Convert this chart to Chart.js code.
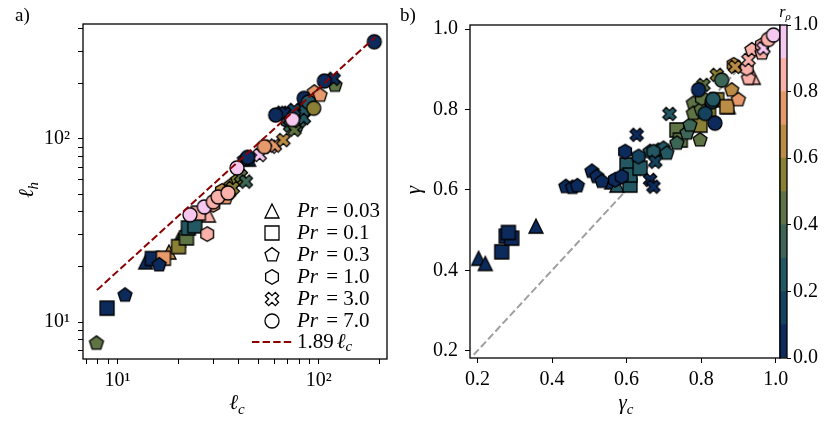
<!DOCTYPE html>
<html>
<head>
<meta charset="utf-8">
<script src="https://cdn.jsdelivr.net/npm/chart.js@4.4.1/dist/chart.umd.min.js"></script>
<style>
  html, body { margin: 0; padding: 0; background: #fff; }
  #wrap { position: relative; width: 830px; height: 422px; overflow: hidden; }
  canvas { position: absolute; top: 0; }
</style>
</head>
<body>
<div id="wrap">
  <canvas id="left" width="395" height="422" style="left:0"></canvas>
  <canvas id="right" width="435" height="422" style="left:395px"></canvas>
  <canvas id="cbar" width="60" height="422" style="left:770px"></canvas>
</div>
<script>
const SERIF = "'Liberation Serif', 'DejaVu Serif', serif"

// r_rho colour bins (edges 0..1, one colour per bin)
const rhoEdges = [0, 0.1, 0.2, 0.3, 0.4, 0.5, 0.6, 0.7, 0.8, 0.9, 1.0]
const rhoColors = ['#0c2a5b', '#15425f', '#235762', '#3c6756', '#5f7444',
                   '#8a8035', '#bb8c45', '#e69a6c', '#f9b1a9', '#f6c7ef']
const rhoTicks = [0, 0.2, 0.4, 0.6, 0.8, 1.0]

// legend / marker per Prandtl number
const prLabels = ['0.03', '0.1', '0.3', '1.0', '3.0', '7.0']
const prShapes = ['tri', 'sq', 'pent', 'hex', 'x', 'circ']

// panel a) : [l_c, l_h, r_rho]
const aTri = [[13.8, 21.3, 0.05], [18.0, 24.1, 0.65], [20.1, 28.1, 0.45], [21.3, 30.6, 0.25],
              [28.3, 38.4, 0.85], [44.8, 77.5, 0.05]]
const aSq = [[8.87, 11.9, 0.05], [14.9, 22.2, 0.05], [16.9, 22.3, 0.75], [20.1, 25.8, 0.55],
             [22.0, 28.8, 0.45], [22.5, 32.6, 0.25], [24.2, 33.5, 0.25], [25.2, 39.3, 0.85]]
const aPent = [[7.86, 7.65, 0.45], [10.9, 14.0, 0.05], [16.1, 20.5, 0.05], [34.5, 47.6, 0.75],
               [36.5, 55.5, 0.55], [39.6, 59.6, 0.55], [42.7, 76.8, 0.05], [77.8, 118, 0.35],
               [90.0, 160, 0.25], [95.0, 180, 0.75], [101.4, 173, 0.75], [120.3, 196, 0.45]]
const aHex = [[27.9, 30.2, 0.85], [29.9, 43.6, 0.75], [33.0, 52.0, 0.65], [44.4, 78.6, 0.05],
              [70.0, 125, 0.25], [85.0, 150, 0.35]]
const aX = [[35.8, 51.1, 0.65], [37.4, 54.0, 0.55], [41.0, 62.8, 0.45], [43.4, 58.5, 0.35],
            [50.8, 81.6, 0.95], [57.7, 90.6, 0.85], [60.5, 92.0, 0.75], [66.6, 98.5, 0.65],
            [72.0, 118, 0.35], [75.6, 112, 0.45], [80.0, 125, 0.35], [84.2, 130, 0.25],
            [84.2, 144, 0.25], [65.5, 139, 0.05], [68.3, 138.8, 0.05], [75.4, 144, 0.15],
            [118.4, 213, 0.05]]
const aCirc = [[22.9, 38.5, 0.95], [27.0, 42.5, 0.95], [29.9, 45.3, 0.85], [31.6, 48.2, 0.85],
               [35.4, 50.7, 0.85], [39.2, 69.4, 0.95], [44.3, 79.3, 0.05], [53.6, 90.6, 0.75],
               [61.0, 135, 0.05], [73.9, 127.5, 0.95], [84.5, 166.5, 0.05], [88.8, 159, 0.25],
               [94.3, 147, 0.55], [106.5, 207, 0.05], [188.5, 339, 0.05]]
const fitCoef = 1.89
const fitRange = [7.9, 190]

// panel b) : [gamma_c, gamma, r_rho]
const bTri = [[0.203, 0.430, 0.05], [0.221, 0.417, 0.05], [0.357, 0.510, 0.05], [0.560, 0.620, 0.05],
              [0.574, 0.612, 0.25], [0.873, 0.807, 0.65], [0.940, 0.880, 0.85]]
const bSq = [[0.265, 0.446, 0.05], [0.277, 0.485, 0.05], [0.292, 0.480, 0.05], [0.283, 0.494, 0.05],
             [0.601, 0.662, 0.25], [0.609, 0.612, 0.25], [0.609, 0.637, 0.25], [0.636, 0.654, 0.25],
             [0.735, 0.749, 0.45], [0.744, 0.724, 0.45], [0.797, 0.761, 0.55], [0.820, 0.800, 0.55],
             [0.842, 0.824, 0.55], [0.869, 0.807, 0.65]]
const bPent = [[0.437, 0.608, 0.05], [0.455, 0.606, 0.05], [0.468, 0.610, 0.05], [0.507, 0.646, 0.05],
               [0.520, 0.633, 0.05], [0.534, 0.621, 0.05], [0.663, 0.695, 0.25], [0.685, 0.698, 0.25],
               [0.699, 0.703, 0.25], [0.708, 0.691, 0.25], [0.735, 0.716, 0.35], [0.762, 0.741, 0.35],
               [0.770, 0.761, 0.35], [0.797, 0.724, 0.45], [0.779, 0.815, 0.45], [0.779, 0.790, 0.45],
               [0.800, 0.800, 0.45], [0.882, 0.848, 0.65], [0.900, 0.824, 0.75], [0.927, 0.877, 0.85],
               [0.936, 0.948, 0.85], [0.963, 0.940, 0.85]]
const bHex = [[0.596, 0.695, 0.05], [0.569, 0.625, 0.05], [0.587, 0.633, 0.05], [0.632, 0.683, 0.15],
              [0.672, 0.695, 0.25], [0.802, 0.828, 0.45], [0.887, 0.911, 0.65], [0.922, 0.902, 0.85],
              [0.963, 0.960, 0.85]]
const bX = [[0.627, 0.737, 0.05], [0.663, 0.625, 0.05], [0.672, 0.608, 0.05], [0.677, 0.670, 0.15],
            [0.715, 0.789, 0.25], [0.806, 0.861, 0.45], [0.842, 0.886, 0.55], [0.891, 0.906, 0.65],
            [0.927, 0.923, 0.85], [0.967, 0.952, 0.95]]
const bCirc = [[0.793, 0.849, 0.05], [0.829, 0.819, 0.15], [0.811, 0.790, 0.15], [0.837, 0.766, 0.05],
               [0.832, 0.825, 0.25], [0.855, 0.873, 0.35], [0.980, 0.974, 0.85], [0.994, 0.985, 0.95]]
const diagRange = [0.19, 1.0]

// axis ticks
const lcTicks = [7, 8, 9, 10, 20, 30, 40, 50, 60, 70, 80, 90, 100, 200]
const lhTicks = [7, 8, 9, 10, 20, 30, 40, 50, 60, 70, 80, 90, 100, 200, 300, 400]
const gammaTicks = [0.2, 0.4, 0.6, 0.8, 1.0]

function rhoColor(r) {
  return rhoColors[Math.min(9, Math.floor(r * 10))]
}

// marker images, cached per shape + colour
const markerCache = {}
function marker(shape, fill) {
  const key = shape + fill
  if (markerCache[key]) return markerCache[key]
  const cv = document.createElement('canvas')
  cv.width = cv.height = 20
  const g = cv.getContext('2d')
  const c = 10, h = 7
  g.beginPath()
  if (shape === 'circ') {
    g.arc(c, c, h, 0, Math.PI * 2)
  } else if (shape === 'sq') {
    g.rect(c - h, c - h, 2 * h, 2 * h)
  } else if (shape === 'tri') {
    g.moveTo(c, c - h); g.lineTo(c + h, c + h); g.lineTo(c - h, c + h); g.closePath()
  } else if (shape === 'pent' || shape === 'hex') {
    const n = shape === 'pent' ? 5 : 6
    const rr = h * 1.05
    for (let i = 0; i < n; i++) {
      const a = -Math.PI / 2 + i * 2 * Math.PI / n
      const px = c + rr * Math.cos(a), py = c + rr * Math.sin(a)
      i === 0 ? g.moveTo(px, py) : g.lineTo(px, py)
    }
    g.closePath()
  } else if (shape === 'x') {
    const pts = [[-1, -3], [1, -3], [1, -1], [3, -1], [3, 1], [1, 1], [1, 3], [-1, 3], [-1, 1], [-3, 1], [-3, -1], [-1, -1]]
    const s = h * 2 / 6, cs = Math.cos(Math.PI / 4), sn = Math.sin(Math.PI / 4)
    pts.forEach(function(p, i) {
      const px = c + s * (p[0] * cs - p[1] * sn), py = c + s * (p[0] * sn + p[1] * cs)
      i === 0 ? g.moveTo(px, py) : g.lineTo(px, py)
    })
    g.closePath()
  }
  g.fillStyle = fill
  g.fill()
  g.lineWidth = 1.3
  g.strokeStyle = '#000'
  g.lineJoin = 'miter'
  g.stroke()
  markerCache[key] = cv
  return cv
}

function scatterSet(rows, shape, order) {
  return {
    data: rows.map(function(p) { return { x: p[0], y: p[1], r: p[2] } }),
    pointStyle: function(ctx) { return marker(shape, rhoColor(ctx.raw ? ctx.raw.r : 0)) },
    pointRadius: 7,
    order: order
  }
}

// text with a subscript, centred at (x, y)
function drawSub(ctx, main, sub, x, y, size, rot) {
  ctx.save()
  ctx.translate(x, y)
  ctx.rotate(rot || 0)
  ctx.fillStyle = '#000'
  ctx.textBaseline = 'alphabetic'
  ctx.textAlign = 'left'
  ctx.font = 'italic ' + size + 'px ' + SERIF
  const w1 = ctx.measureText(main).width
  const subSize = Math.round(size * 0.7)
  ctx.font = 'italic ' + subSize + 'px ' + SERIF
  const w2 = ctx.measureText(sub).width
  const x0 = -(w1 + w2) / 2
  ctx.font = 'italic ' + size + 'px ' + SERIF
  ctx.fillText(main, x0, size * 0.3)
  ctx.font = 'italic ' + subSize + 'px ' + SERIF
  ctx.fillText(sub, x0 + w1, size * 0.3 + size * 0.22)
  ctx.restore()
}

const framePlugin = {
  id: 'frame',
  afterDatasetsDraw(chart) {
    const a = chart.chartArea, ctx = chart.ctx
    ctx.save()
    ctx.strokeStyle = '#000'
    ctx.lineWidth = 1.3
    ctx.strokeRect(a.left, a.top, a.right - a.left, a.bottom - a.top)
    ctx.restore()
  }
}

const leftDeco = {
  id: 'leftDeco',
  afterDraw(chart) {
    const ctx = chart.ctx
    ctx.save()
    ctx.fillStyle = '#000'
    ctx.textBaseline = 'middle'
    ctx.textAlign = 'left'
    prLabels.forEach(function(lab, i) {
      const y = 211 + i * 22
      ctx.drawImage(marker(prShapes[i], '#ffffff'), 272 - 10, y - 10)
      ctx.font = 'italic 21px ' + SERIF
      ctx.fillText('Pr', 297, y)
      const w = ctx.measureText('Pr').width
      ctx.font = '21px ' + SERIF
      ctx.fillText(' = ' + lab, 297 + w + 3, y)
    })
    const ly = 342
    ctx.strokeStyle = '#8b0000'
    ctx.lineWidth = 2
    ctx.setLineDash([7.4, 3.2])
    ctx.beginPath(); ctx.moveTo(252, ly); ctx.lineTo(292, ly); ctx.stroke()
    ctx.setLineDash([])
    ctx.font = '21px ' + SERIF
    ctx.fillText(fitCoef.toFixed(2), 297, ly)
    const w = ctx.measureText(fitCoef.toFixed(2)).width
    ctx.font = 'italic 21px ' + SERIF
    ctx.fillText('\u2113', 297 + w + 3, ly)
    const w2 = ctx.measureText('\u2113').width
    ctx.font = 'italic 15px ' + SERIF
    ctx.fillText('c', 297 + w + 3 + w2, ly + 5)

    ctx.font = '19px ' + SERIF
    ctx.textBaseline = 'alphabetic'
    ctx.fillText('a)', 15, 21)
    drawSub(ctx, '\u2113', 'h', 27, 190, 21, -Math.PI / 2)
    drawSub(ctx, '\u2113', 'c', 237, 403, 21, 0)
    ctx.restore()
  }
}

const rightDeco = {
  id: 'rightDeco',
  afterDraw(chart) {
    const ctx = chart.ctx
    ctx.save()
    ctx.fillStyle = '#000'
    ctx.font = '19px ' + SERIF
    ctx.textBaseline = 'alphabetic'
    ctx.fillText('b)', 5, 21)
    ctx.font = 'italic 21px ' + SERIF
    ctx.textAlign = 'center'
    ctx.translate(19, 190)
    ctx.rotate(-Math.PI / 2)
    ctx.fillText('\u03b3', 0, 6)
    ctx.restore()
    drawSub(ctx, '\u03b3', 'c', 231, 403, 21, 0)
  }
}

const cbarDeco = {
  id: 'cbarDeco',
  afterDraw(chart) {
    drawSub(chart.ctx, 'r', '\u03c1', 15, 12, 16, 0)
  }
}

function tickGrid() {
  return { drawOnChartArea: false, color: '#000', tickLength: 5, tickWidth: 1 }
}

Chart.defaults.font.family = SERIF
Chart.defaults.color = '#000'

function decadeLabel(v) {
  if (v === 10) return '10\u00b9'
  if (v === 100) return '10\u00b2'
  return ''
}

new Chart(document.getElementById('left'), {
  type: 'scatter',
  data: {
    datasets: [
      {
        data: fitRange.map(function(x) { return { x: x, y: fitCoef * x } }),
        showLine: true, borderColor: '#8b0000', borderWidth: 2, borderDash: [7.4, 3.2],
        pointRadius: 0, order: 0
      },
      scatterSet(aTri, 'tri', 6),
      scatterSet(aSq, 'sq', 5),
      scatterSet(aPent, 'pent', 4),
      scatterSet(aHex, 'hex', 3),
      scatterSet(aX, 'x', 2),
      scatterSet(aCirc, 'circ', 1)
    ]
  },
  options: {
    responsive: false,
    animation: false,
    layout: { padding: { left: 0, top: 24, right: 4, bottom: 0 } },
    plugins: { legend: { display: false }, tooltip: { enabled: false } },
    scales: {
      x: {
        type: 'logarithmic', min: 6.74, max: 218,
        afterBuildTicks: function(s) { s.ticks = lcTicks.map(function(v) { return { value: v } }) },
        afterFit: function(s) { s.height = 63 },
        grid: tickGrid(),
        border: { display: false },
        ticks: { autoSkip: false, maxRotation: 0, padding: 5, font: { size: 20 }, callback: decadeLabel }
      },
      y: {
        type: 'logarithmic', min: 6.28, max: 424,
        afterBuildTicks: function(s) { s.ticks = lhTicks.map(function(v) { return { value: v } }) },
        afterFit: function(s) { s.width = 83 },
        grid: tickGrid(),
        border: { display: false },
        ticks: { autoSkip: false, padding: 8, font: { size: 20 }, callback: decadeLabel }
      }
    }
  },
  plugins: [framePlugin, leftDeco]
})

new Chart(document.getElementById('right'), {
  type: 'scatter',
  data: {
    datasets: [
      {
        data: diagRange.map(function(v) { return { x: v, y: v } }),
        showLine: true, borderColor: '#a0a0a0', borderWidth: 2, borderDash: [7.4, 3.2],
        pointRadius: 0, order: 9
      },
      scatterSet(bTri, 'tri', 6),
      scatterSet(bSq, 'sq', 5),
      scatterSet(bPent, 'pent', 4),
      scatterSet(bHex, 'hex', 3),
      scatterSet(bX, 'x', 2),
      scatterSet(bCirc, 'circ', 1)
    ]
  },
  options: {
    responsive: false,
    animation: false,
    layout: { padding: { left: 0, top: 25, right: 50, bottom: 0 } },
    plugins: { legend: { display: false }, tooltip: { enabled: false } },
    scales: {
      x: {
        type: 'linear', min: 0.18, max: 1.0115,
        afterBuildTicks: function(s) { s.ticks = gammaTicks.map(function(v) { return { value: v } }) },
        afterFit: function(s) { s.height = 64 },
        grid: tickGrid(),
        border: { display: false },
        ticks: { autoSkip: false, maxRotation: 0, padding: 5, font: { size: 20 }, callback: function(v) { return v.toFixed(1) } }
      },
      y: {
        type: 'linear', min: 0.182, max: 1.01,
        afterBuildTicks: function(s) { s.ticks = gammaTicks.map(function(v) { return { value: v } }) },
        afterFit: function(s) { s.width = 75 },
        grid: tickGrid(),
        border: { display: false },
        ticks: { autoSkip: false, padding: 7, font: { size: 20 }, callback: function(v) { return v.toFixed(1) } }
      }
    }
  },
  plugins: [framePlugin, rightDeco]
})

new Chart(document.getElementById('cbar'), {
  type: 'bar',
  data: {
    labels: [''],
    datasets: rhoColors.map(function(col, i) {
      return {
        data: [[rhoEdges[i], rhoEdges[i + 1]]],
        backgroundColor: col, borderWidth: 0,
        barPercentage: 1, categoryPercentage: 1, grouped: false
      }
    })
  },
  options: {
    responsive: false,
    animation: false,
    layout: { padding: { left: 10, top: 25, right: 0, bottom: 64 } },
    plugins: { legend: { display: false }, tooltip: { enabled: false } },
    scales: {
      x: { display: false },
      y: {
        position: 'right', min: 0, max: 1,
        afterBuildTicks: function(s) { s.ticks = rhoTicks.map(function(v) { return { value: v } }) },
        afterFit: function(s) { s.width = 43 },
        grid: { drawOnChartArea: false, color: '#000', tickLength: 4, tickWidth: 1 },
        border: { display: false },
        ticks: { autoSkip: false, padding: 2, font: { size: 20 }, callback: function(v) { return v.toFixed(1) } }
      }
    }
  },
  plugins: [framePlugin, cbarDeco]
})
</script>
</body>
</html>
